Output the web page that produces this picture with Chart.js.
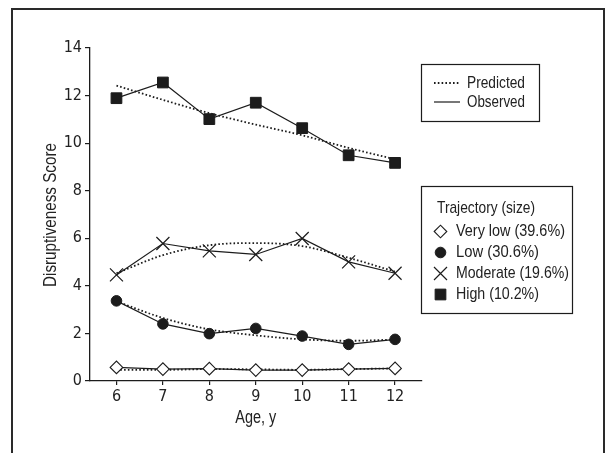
<!DOCTYPE html>
<html>
<head>
<meta charset="utf-8">
<script src="https://cdn.jsdelivr.net/npm/chart.js@4.4.1/dist/chart.umd.min.js"></script>
<style>
  html, body { margin: 0; padding: 0; background: #fff; }
  #wrap { position: relative; width: 615px; height: 453px; }
  canvas { display: block; }
</style>
</head>
<body>
<div id="wrap"><canvas id="c" width="615" height="453"></canvas></div>
<script>
// ---- data ----
const ages = [6, 7, 8, 9, 10, 11, 12];
const yTicks = [0, 2, 4, 6, 8, 10, 12, 14];

const veryLowObserved = [0.57, 0.50, 0.52, 0.46, 0.46, 0.50, 0.53];
const veryLowPredicted = [0.47, 0.47, 0.50, 0.49, 0.47, 0.50, 0.53];
const lowObserved = [3.37, 2.40, 1.99, 2.21, 1.89, 1.54, 1.75];
const lowPredicted = [3.35, 2.65, 2.17, 1.92, 1.75, 1.69, 1.74];
const moderateObserved = [4.46, 5.78, 5.47, 5.32, 5.99, 5.01, 4.53];
const moderatePredicted = [4.53, 5.29, 5.71, 5.80, 5.67, 5.18, 4.60];
const highObserved = [11.89, 12.55, 11.01, 11.70, 10.63, 9.49, 9.17];
const highPredicted = [12.42, 11.82, 11.26, 10.78, 10.33, 9.80, 9.32];

const trajectoryLabels = ['Very low (39.6%)', 'Low (30.6%)', 'Moderate (19.6%)', 'High (10.2%)'];
const lineLabels = ['Predicted', 'Observed'];
const legendTitle = 'Trajectory (size)';
const xTitle = 'Age, y';
const yTitle = 'Disruptiveness Score';

// ---- styling ----
const TICKFONT = "'DejaVu Sans Condensed', 'Liberation Sans', sans-serif";
const TXTFONT = "'Liberation Sans', Arial, sans-serif";
const INK = '#1c1c1c';
const TEXT = '#222222';

const pts = (arr) => ages.map((a, i) => ({ x: a, y: arr[i] }));

const markerStyles = [
  { pointStyle: 'rectRot', radius: 6.3, bg: '#ffffff', bw: 1.1 },
  { pointStyle: 'circle', radius: 5.3, bg: INK, bw: 1 },
  { pointStyle: 'crossRot', radius: 9.2, bg: INK, bw: 1.2 },
  { pointStyle: 'rect', radius: 7.6, bg: INK, bw: 1 }
];

function predictedSet(arr) {
  return {
    data: pts(arr), borderColor: INK, borderWidth: 1.8, borderDash: [1.6, 2.2],
    pointRadius: 0, fill: false, cubicInterpolationMode: 'monotone', order: 2
  };
}
function observedSet(arr, m) {
  return {
    data: pts(arr), borderColor: INK, borderWidth: 1.2, tension: 0,
    pointStyle: m.pointStyle, pointRadius: m.radius, pointBackgroundColor: m.bg,
    pointBorderColor: INK, pointBorderWidth: m.bw, fill: false, order: 1
  };
}

const datasets = [
  predictedSet(veryLowPredicted), observedSet(veryLowObserved, markerStyles[0]),
  predictedSet(lowPredicted), observedSet(lowObserved, markerStyles[1]),
  predictedSet(moderatePredicted), observedSet(moderateObserved, markerStyles[2]),
  predictedSet(highPredicted), observedSet(highObserved, markerStyles[3])
];

// draw condensed text: horizontally squeezed so that it spans `w` pixels
function narrowText(ctx, text, x, y, size, w, align) {
  ctx.save();
  ctx.font = size + 'px ' + TXTFONT;
  const natural = ctx.measureText(text).width;
  const k = w / natural;
  ctx.translate(x, y);
  ctx.scale(k, 1);
  ctx.textAlign = align || 'left';
  ctx.textBaseline = 'middle';
  ctx.fillText(text, 0, 0);
  ctx.restore();
}

const overlay = {
  id: 'overlay',
  afterDraw(chart) {
    const ctx = chart.ctx;
    ctx.save();
    // outer frame (bottom edge runs off the picture)
    ctx.strokeStyle = '#2a2a2a';
    ctx.lineWidth = 2;
    ctx.beginPath();
    ctx.moveTo(12, 460); ctx.lineTo(12, 9); ctx.lineTo(604, 9); ctx.lineTo(604, 460);
    ctx.stroke();

    ctx.fillStyle = TEXT;
    // axis titles
    narrowText(ctx, xTitle, chart.scales.x.getPixelForValue(9), 418, 18, 41, 'center');
    ctx.save();
    ctx.translate(51, 215);
    ctx.rotate(-Math.PI / 2);
    narrowText(ctx, yTitle, 0, 0, 18, 144, 'center');
    ctx.restore();

    // legend 1: line types
    ctx.strokeStyle = INK;
    ctx.lineWidth = 1.2;
    ctx.strokeRect(421.5, 64.5, 118, 57);
    ctx.lineWidth = 1.8;
    ctx.setLineDash([1.6, 2.2]);
    ctx.beginPath(); ctx.moveTo(434, 83); ctx.lineTo(460, 83); ctx.stroke();
    ctx.setLineDash([]);
    ctx.lineWidth = 1.2;
    ctx.beginPath(); ctx.moveTo(434, 102); ctx.lineTo(460, 102); ctx.stroke();
    narrowText(ctx, lineLabels[0], 467, 83, 17, 58);
    narrowText(ctx, lineLabels[1], 467, 102, 17, 58);

    // legend 2: trajectories
    ctx.strokeRect(421.5, 186.5, 151, 127);
    narrowText(ctx, legendTitle, 437, 208, 17, 98);
    const rows = [231.5, 252.5, 273.5, 294.5];
    const widths = [109, 83, 113, 83];
    const lx = 440.5;
    rows.forEach((ry, i) => {
      const m = markerStyles[i];
      ctx.fillStyle = m.bg; ctx.strokeStyle = INK; ctx.lineWidth = m.bw;
      Chart.helpers.drawPoint(ctx, { pointStyle: m.pointStyle, radius: m.radius, borderWidth: m.bw, rotation: 0 }, lx, ry);
      ctx.fillStyle = TEXT;
      narrowText(ctx, trajectoryLabels[i], 456, ry, 17, widths[i]);
    });
    ctx.restore();
  }
};

new Chart(document.getElementById('c'), {
  type: 'line',
  data: { datasets },
  plugins: [overlay],
  options: {
    responsive: false,
    animation: false,
    events: [],
    layout: { padding: { left: 0, top: 48, right: 193, bottom: 0 } },
    plugins: { legend: { display: false }, tooltip: { enabled: false } },
    scales: {
      x: {
        type: 'linear', min: 5.43, max: 12.58,
        afterFit: (s) => { s.height = 72; },
        afterBuildTicks: (s) => { s.ticks = ages.map(v => ({ value: v })); },
        grid: { display: true, drawOnChartArea: false, drawTicks: true, tickLength: 4, color: INK, lineWidth: 1.2 },
        border: { display: true, color: INK, width: 1.3 },
        ticks: { color: TEXT, font: { family: TICKFONT, size: 16 }, padding: 2, maxRotation: 0 }
      },
      y: {
        type: 'linear', min: 0, max: 14,
        afterFit: (s) => { s.width = 90; },
        afterBuildTicks: (s) => { s.ticks = yTicks.map(v => ({ value: v })); },
        grid: { display: true, drawOnChartArea: false, drawTicks: true, tickLength: 5, color: INK, lineWidth: 1.2 },
        border: { display: true, color: INK, width: 1.3 },
        ticks: { color: TEXT, font: { family: TICKFONT, size: 16 }, padding: 3 }
      }
    }
  }
});
</script>
</body>
</html>
